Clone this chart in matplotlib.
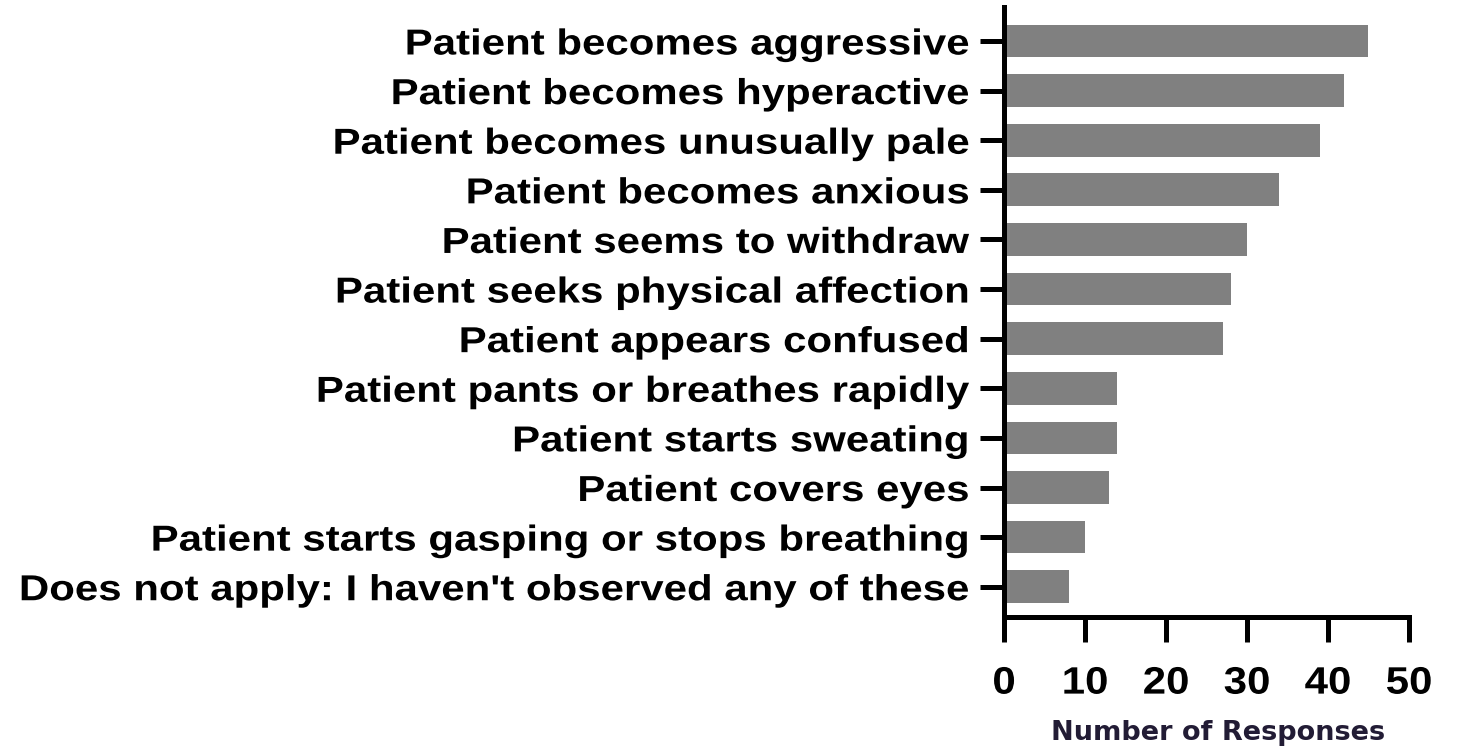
#!/usr/bin/env python3
# -*- coding: utf-8 -*-
"""
Horizontal bar chart: observed patient behaviours
"""

import numpy as np
import matplotlib
matplotlib.use("Agg")
import matplotlib.pyplot as plt
from matplotlib.patheffects import AbstractPathEffect
from matplotlib.transforms import Affine2D

# Dados
categories = [
    "Patient becomes aggressive",
    "Patient becomes hyperactive",
    "Patient becomes unusually pale",
    "Patient becomes anxious",
    "Patient seems to withdraw",
    "Patient seeks physical affection",
    "Patient appears confused",
    "Patient pants or breathes rapidly",
    "Patient starts sweating",
    "Patient covers eyes",
    "Patient starts gasping or stops breathing",
    "Does not apply: I haven't observed any of these",
]
responses = [45, 42, 39, 34, 30, 28, 27, 14, 14, 13, 10, 8]
x_ticks = [0, 10, 20, 30, 40, 50]


class StretchX(AbstractPathEffect):
    """Alarga o texto na horizontal (fonte original é mais larga)."""

    def __init__(self, sx, anchor="right"):
        super().__init__()
        self.sx = sx
        self.anchor = anchor

    def draw_path(self, renderer, gc, tpath, affine, rgbFace=None):
        xs = tpath.vertices[:, 0]
        if len(xs) == 0:
            return
        if self.anchor == "right":
            x0 = xs.max()
        else:
            x0 = (xs.min() + xs.max()) / 2
        t = Affine2D().translate(-x0, 0).scale(self.sx, 1).translate(x0, 0)
        renderer.draw_path(gc, tpath, t + affine, rgbFace)


def main():
    fig = plt.figure(figsize=(14.61, 7.54), dpi=100)
    ax = fig.add_axes([0.6872, 0.1817, 0.2772, 0.809])

    y = np.arange(len(categories))
    ax.barh(y, responses, height=0.66, color="#808080", edgecolor="none")

    ax.set_ylim(11.61, -0.685)
    ax.set_xlim(0, 50)

    ax.set_yticks(y)
    ylabels = ax.set_yticklabels(categories, fontsize=26, fontweight="bold",
                                 family="Liberation Sans")
    for lab in ylabels:
        lab.set_path_effects([StretchX(1.163, "right")])

    ax.set_xticks(x_ticks)
    xlabels = ax.set_xticklabels([str(v) for v in x_ticks], fontsize=27.5,
                                 fontweight="bold", family="Liberation Sans")
    for lab in xlabels:
        lab.set_path_effects([StretchX(1.1, "center")])

    # Eixos
    for side in ["top", "right"]:
        ax.spines[side].set_visible(False)
    for side in ["left", "bottom"]:
        ax.spines[side].set_linewidth(3.6)
        ax.spines[side].set_capstyle("projecting")
    ax.tick_params(axis="y", length=17, width=3.6, pad=8)
    ax.tick_params(axis="x", length=18, width=3.6, pad=17)

    fig.text(0.834, 0.0186, "Number of Responses", ha="center",
             va="baseline", fontsize=19.5, fontweight="bold",
             family="DejaVu Sans", color="#221c35")

    plt.savefig("out.png", dpi=100)
    plt.close()


if __name__ == "__main__":
    main()
